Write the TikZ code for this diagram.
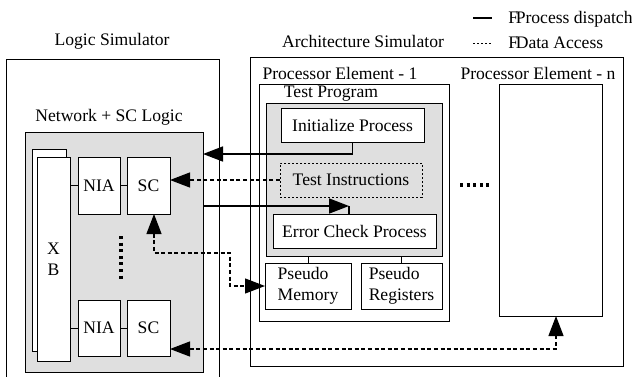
\documentclass[tikz,border=0pt]{standalone}
\usepackage{fontspec}
\setmainfont{Liberation Serif}
\usetikzlibrary{arrows.meta}
\tikzset{
  box/.style={draw,fill=white,line width=0.5pt,inner sep=0pt,outer sep=0pt},
  shade/.style={box,fill=gray!25},
  dashbox/.style={shade,dash pattern=on 1pt off 1pt},
  lbl/.style={inner sep=0pt},
  flow/.style={line width=0.8pt},
  data/.style={line width=0.6pt,dash pattern=on 2pt off 1.3pt},
  dotline/.style={line width=1.6pt,dash pattern=on 1.5pt off 1.8pt}
}

\begin{document}
\begin{tikzpicture}[line join=miter,>={Triangle[length=10pt,width=7.5pt]},x=0.5pt,y=-0.5pt,font=\fontsize{8.8}{10.5}\selectfont]
	\useasboundingbox (0,0) rectangle (632,376);
	\clip (0,0) rectangle (632,376);
	% simulators
	\node[box,minimum width=106.5pt,minimum height=159.5pt] (logic) at (112.5,218.5) {};
	\node[lbl] (logiclbl) at (112,41) {Logic Simulator};
	\node[box,minimum width=186.5pt,minimum height=154.5pt] (arch) at (436.5,211.5) {};
	\node[lbl] (archlbl) at (363,41) {Architecture Simulator};
	% network side
	\node[shade,minimum width=89pt,minimum height=120pt] (net) at (114,252) {};
	\node[lbl] (netlbl) at (109,117) {Network + SC Logic};
	\node[box,minimum width=17pt,minimum height=101pt] (xbback) at (49,250) {};
	\node[box,minimum width=16.5pt,minimum height=102pt,align=center] (xb) at (53.5,259) {X\\B};
	\node[box,minimum width=21pt,minimum height=28.5pt] (nia1) at (99,185.5) {NIA};
	\node[box,minimum width=21.5pt,minimum height=28.5pt] (sc1) at (148.5,185.5) {SC};
	\node[box,minimum width=21pt,minimum height=28pt] (nia2) at (99,328) {NIA};
	\node[box,minimum width=21.5pt,minimum height=28pt] (sc2) at (148.5,328) {SC};
	\draw[line width=0.5pt] (nia1.west -| xb.east) -- (nia1.west);
	\draw[line width=0.5pt] (nia1.east) -- (sc1.west);
	\draw[line width=0.5pt] (nia2.west -| xb.east) -- (nia2.west);
	\draw[line width=0.5pt] (nia2.east) -- (sc2.west);
	\draw[dotline] (121,236) -- (121,281);
	% processor elements
	\node[box,minimum width=95pt,minimum height=118.5pt] (pe1) at (354,202.5) {};
	\node[lbl] (pe1lbl) at (340,73) {Processor Element - 1};
	\node[shade,minimum width=88pt,minimum height=76.5pt] (tp) at (354,179.5) {};
	\node[lbl] (tplbl) at (331,94) {Test Program};
	\node[box,minimum width=71.5pt,minimum height=17pt] (init) at (352.5,125) {Initialize Process};
	\node[dashbox,minimum width=71pt,minimum height=17pt] (instr) at (351,180) {Test Instructions};
	\node[box,minimum width=81.5pt,minimum height=17pt] (err) at (354.5,231) {Error Check Process};
	\node[box,minimum width=43pt,minimum height=23pt,align=left] (pmem) at (308,286) {Pseudo\\Memory};
	\node[box,minimum width=40.5pt,minimum height=23pt,align=left] (preg) at (401.5,286) {Pseudo\\Registers};
	\draw[line width=0.5pt] (pmem.north) -- (pmem.north |- tp.south);
	\draw[line width=0.5pt] (preg.north) -- (preg.north |- tp.south);
	\node[box,minimum width=51.5pt,minimum height=116pt] (pen) at (550.5,200) {};
	\node[lbl] (penlbl) at (538,73) {Processor Element - n};
	\draw[dotline] (460,185) -- (491,185);
	% connectors
	\coordinate (b1) at (352.5,154);
	\coordinate (b2) at (349,206);
	\coordinate (b3) at (154,253);
	\coordinate (b4) at (230,286);
	\coordinate (b5) at (556,349);
	\draw[flow,->] (init.south) -- (b1) -- (net.east |- b1);
	\draw[data,->] (instr.west) -- (sc1.east |- instr.west);
	\draw[flow,->] (net.east |- b2) -- (b2);
	\draw[flow] (b2) -- (b2 |- err.north);
	\draw[data,<->] (sc1.south -| b3) -- (b3) -| (b4) -- (pmem.west);
	\draw[data,<->] (sc2.east |- b5) -- (b5) -- (b5 |- pen.south);
	% legend
	\coordinate (l1a) at (473,18);
	\coordinate (l1b) at (492,18);
	\coordinate (l2a) at (473,43);
	\coordinate (l2b) at (492,43);
	\draw[flow] (l1a) -- (l1b);
	\draw[line width=0.5pt,dash pattern=on 1pt off 1pt] (l2a) -- (l2b);
	\node[lbl,anchor=base west] (leg1) at (508,23) {F\kern-1.2pt Process dispatch};
	\node[lbl,anchor=base west] (leg2) at (508,48) {F\kern-1.2pt Data Access};
\end{tikzpicture}
\end{document}
